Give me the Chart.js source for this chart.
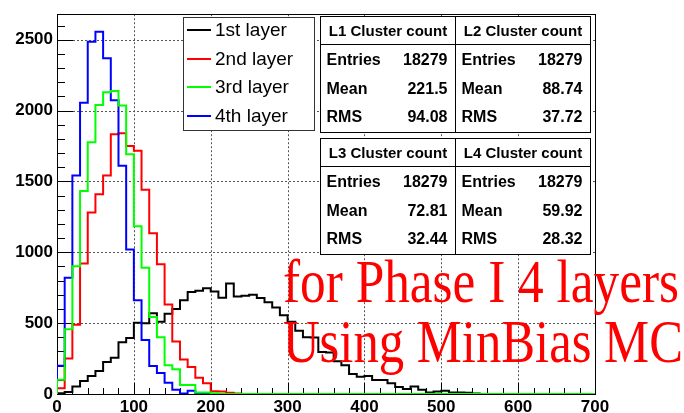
<!DOCTYPE html>
<html>
<head>
<meta charset="utf-8">
<script src="https://cdn.jsdelivr.net/npm/chart.js@4.4.1/dist/chart.umd.min.js"></script>
<style>
  html, body { margin: 0; padding: 0; background: #fff; }
</style>
</head>
<body>
<canvas id="myChart" width="684" height="413"></canvas>
<script>
// histogram bins: lower edge of first bin and bin width
const binStart = 0;
const binWidth = 10;

// counts per bin, 70 bins from 0 to 700
const layer1 = [5, 14, 53, 92, 127, 162, 226, 256, 365, 395,
  503, 500, 570, 510, 566, 600, 662, 720, 728, 746,
  723, 680, 780, 688, 693, 700, 677, 647, 610, 555,
  510, 446, 400, 398, 296, 292, 231, 203, 141, 122,
  127, 99, 99, 76, 49, 35, 53, 30, 11, 18,
  23, 11, 11, 8, 3, 0, 0, 0, 0, 0,
  0, 0, 0, 0, 0, 0, 0, 0, 0, 0];
const layer2 = [40, 250, 488, 920, 1280, 1410, 1542, 1833, 1840, 1750,
  1717, 1442, 1135, 915, 631, 370, 243, 191, 115, 76,
  20, 18, 8, 3, 0, 0, 0, 0, 0, 0,
  0, 0, 0, 0, 0, 0, 0, 0, 0, 0,
  0, 0, 0, 0, 0, 0, 0, 0, 0, 0,
  0, 0, 0, 0, 0, 0, 0, 0, 0, 0,
  0, 0, 0, 0, 0, 0, 0, 0, 0, 0];
const layer3 = [100, 457, 901, 1433, 1777, 2039, 2129, 2138, 2036, 1692,
  1183, 890, 543, 400, 203, 175, 64, 64, 11, 11,
  5, 0, 0, 0, 0, 0, 0, 0, 0, 0,
  0, 0, 0, 0, 0, 0, 0, 0, 0, 0,
  0, 0, 0, 0, 0, 0, 0, 0, 0, 0,
  0, 0, 0, 0, 0, 0, 0, 0, 0, 0,
  0, 0, 0, 0, 0, 0, 0, 0, 0, 0];
const layer4 = [200, 820, 1542, 2056, 2485, 2557, 2369, 2072, 1611, 1020,
  661, 381, 198, 148, 80, 30, 3, 23, 5, 3,
  0, 0, 0, 0, 0, 0, 0, 0, 0, 0,
  0, 0, 0, 0, 0, 0, 0, 0, 0, 0,
  0, 0, 0, 0, 0, 0, 0, 0, 0, 0,
  0, 0, 0, 0, 0, 0, 0, 0, 0, 0,
  0, 0, 0, 0, 0, 0, 0, 0, 0, 0];

const seriesNames = ['1st layer', '2nd layer', '3rd layer', '4th layer'];
const seriesColors = ['#000000', '#ff0000', '#00ff00', '#0000ff'];

const xTicks = [0, 100, 200, 300, 400, 500, 600, 700];
const yTicks = [0, 500, 1000, 1500, 2000, 2500];

const statTitles = ['L1 Cluster count', 'L2 Cluster count', 'L3 Cluster count', 'L4 Cluster count'];
const statEntries = ['18279', '18279', '18279', '18279'];
const statMeans = ['221.5', '88.74', '72.81', '59.92'];
const statRms = ['94.08', '37.72', '32.44', '28.32'];

const noteLines = ['for Phase I 4 layers', 'Using MinBias MC'];

function toSteps(values) {
  const pts = [{x: binStart, y: 0}];
  values.forEach((v, i) => pts.push({x: binStart + i * binWidth, y: v}));
  pts.push({x: binStart + values.length * binWidth, y: 0});
  return pts;
}

const tickFont = {family: 'Liberation Sans', weight: 'bold', size: 17};

// dotted grid, frame, inward ticks, legend, stat boxes and the red note
const rootStyle = {
  id: 'rootStyle',
  beforeDatasetsDraw(chart) {
    const c = chart.ctx;
    const a = chart.chartArea;
    const xs = chart.scales.x, ys = chart.scales.y;
    c.save();
    c.strokeStyle = '#555';
    c.lineWidth = 1;
    c.setLineDash([2, 2]);
    xTicks.forEach(v => {
      const px = Math.round(xs.getPixelForValue(v)) + 0.5;
      c.beginPath();
      c.moveTo(px, a.top);
      c.lineTo(px, a.bottom);
      c.stroke();
    });
    yTicks.forEach(v => {
      const py = Math.round(ys.getPixelForValue(v)) + 0.5;
      c.beginPath();
      c.moveTo(a.left, py);
      c.lineTo(a.right, py);
      c.stroke();
    });
    c.setLineDash([]);
    c.strokeStyle = '#000';
    c.beginPath();
    for (let v = 0; v <= 700; v += 20) {
      const px = Math.round(xs.getPixelForValue(v)) + 0.5;
      const len = v % 100 === 0 ? 11 : 6;
      c.moveTo(px, a.bottom);
      c.lineTo(px, a.bottom - len);
    }
    for (let v = 0; v <= 2600; v += 100) {
      const py = Math.round(ys.getPixelForValue(v)) + 0.5;
      const len = v % 500 === 0 ? 16 : 8;
      c.moveTo(a.left, py);
      c.lineTo(a.left + len, py);
    }
    c.stroke();
    c.strokeRect(Math.round(a.left) + 0.5, Math.round(a.top) + 0.5,
      Math.round(a.right - a.left), Math.round(a.bottom - a.top));
    c.restore();
  },
  afterDraw(chart) {
    const c = chart.ctx;
    c.save();

    // legend
    c.fillStyle = '#fff';
    c.fillRect(183.5, 17.5, 131, 113);
    c.strokeStyle = '#333';
    c.lineWidth = 1;
    c.strokeRect(183.5, 17.5, 131, 113);
    const rowY = [30, 59, 87, 116];
    c.font = '19px "Liberation Sans"';
    c.textBaseline = 'middle';
    c.textAlign = 'left';
    seriesNames.forEach((name, i) => {
      c.strokeStyle = seriesColors[i];
      c.lineWidth = 2;
      c.beginPath();
      c.moveTo(187, rowY[i]);
      c.lineTo(211, rowY[i]);
      c.stroke();
      c.fillStyle = '#000';
      c.fillText(name, 215, rowY[i] + 1);
    });

    // stat boxes
    const boxes = [
      {x: 320.5, y: 16.5}, {x: 455.5, y: 16.5},
      {x: 320.5, y: 138.5}, {x: 455.5, y: 138.5}
    ];
    const bw = 135, bh = 116, th = 28;
    boxes.forEach((b, i) => {
      c.fillStyle = '#fff';
      c.fillRect(b.x, b.y, bw, bh);
      c.strokeStyle = '#000';
      c.lineWidth = 1;
      c.strokeRect(b.x, b.y, bw, bh);
      c.beginPath();
      c.moveTo(b.x, b.y + th);
      c.lineTo(b.x + bw, b.y + th);
      c.stroke();
      c.fillStyle = '#000';
      c.textBaseline = 'middle';
      c.font = 'bold 15px "Liberation Sans"';
      c.textAlign = 'center';
      c.fillText(statTitles[i], b.x + bw / 2, b.y + th / 2 + 1);
      c.font = 'bold 16px "Liberation Sans"';
      const rows = [['Entries', statEntries[i]], ['Mean', statMeans[i]], ['RMS', statRms[i]]];
      const offs = [44, 73, 101];
      rows.forEach((r, k) => {
        c.textAlign = 'left';
        c.fillText(r[0], b.x + 6, b.y + offs[k]);
        c.textAlign = 'right';
        c.fillText(r[1], b.x + bw - 8, b.y + offs[k]);
      });
    });

    // red note
    c.fillStyle = '#ff0000';
    c.textAlign = 'left';
    c.textBaseline = 'alphabetic';
    c.font = '54px "Liberation Serif"';
    const noteX = 283, noteBase = [302, 362], noteW = [396, 400];
    noteLines.forEach((t, i) => {
      const w = c.measureText(t).width;
      c.save();
      c.translate(noteX, noteBase[i]);
      c.scale(noteW[i] / w, 1.12);
      c.fillText(t, 0, 0);
      c.restore();
    });
    c.restore();
  }
};

const ctx = document.getElementById('myChart');
const drawOrder = [3, 2, 0, 1];

new Chart(ctx, {
  type: 'line',
  data: {
    datasets: [layer1, layer2, layer3, layer4].map((vals, i) => ({
      label: seriesNames[i],
      data: toSteps(vals),
      borderColor: seriesColors[i],
      borderWidth: 2,
      stepped: 'before',
      pointRadius: 0,
      fill: false,
      order: drawOrder[i]
    }))
  },
  options: {
    responsive: false,
    animation: false,
    layout: {padding: {top: 8, right: 89, left: 0, bottom: 0}},
    plugins: {legend: {display: false}, tooltip: {enabled: false}},
    scales: {
      x: {
        type: 'linear',
        min: 0,
        max: 700,
        afterBuildTicks: s => { s.ticks = xTicks.map(v => ({value: v})); },
        afterFit: s => { s.height = 19; },
        grid: {display: false, drawTicks: false},
        border: {display: false},
        ticks: {font: tickFont, color: '#000', padding: 3, maxRotation: 0, callback: v => String(v)}
      },
      y: {
        min: 0,
        max: 2680,
        afterBuildTicks: s => { s.ticks = yTicks.map(v => ({value: v})); },
        afterFit: s => { s.width = 57; },
        grid: {display: false, drawTicks: false},
        border: {display: false},
        ticks: {font: tickFont, color: '#000', padding: 4, callback: v => String(v)}
      }
    }
  },
  plugins: [rootStyle]
});
</script>
</body>
</html>
